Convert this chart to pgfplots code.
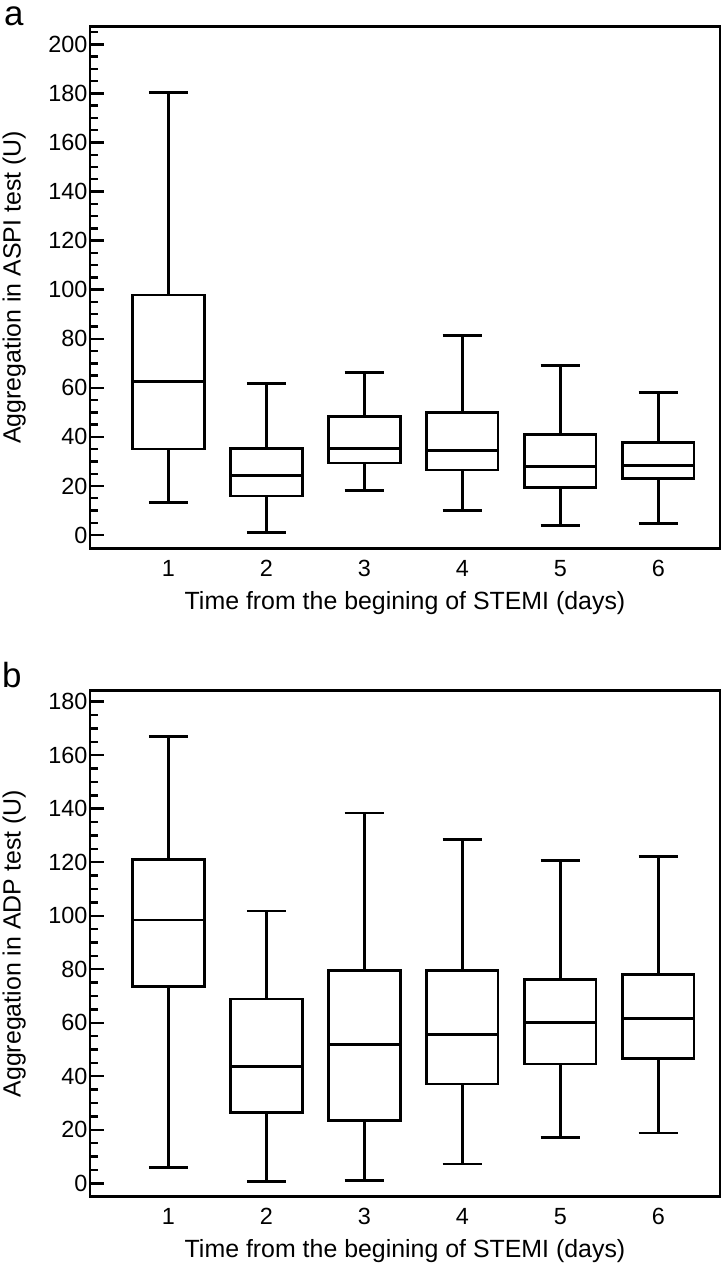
\documentclass[border=0pt]{standalone}
\usepackage{fontspec}
\setmainfont{Liberation Sans}
\usepackage{pgfplots}
\pgfplotsset{compat=1.18}
\usepgfplotslibrary{statistics}

% common look of both panels (1 bp = 1 px of the reference)
\pgfplotsset{
  stemi/.style={
    scale only axis, width=630bp,
    xmin=0.2, xmax=6.63,
    xtick={1,...,6},
    axis line style={line width=2.8bp},
    ytick pos=left, xtick pos=bottom,
    tick align=inside,
    major tick length=14bp, minor tick length=8bp,
    x tick style={draw=none},
    y tick style={line width=2.4bp, black},
    tick label style={font=\fontsize{23.5}{28}\selectfont},
    /pgf/number format/assume math mode=true,
    yticklabel style={xshift=1bp},
    xticklabel style={anchor=base, yshift=-28bp},
    label style={font=\fontsize{25}{30}\selectfont},
    xlabel={Time from the begining of STEMI (days)},
    xlabel style={at={(axis description cs:0.5,0)}, anchor=base, yshift=-61bp},
    ylabel style={at={(axis description cs:-0.110,0.5)}, anchor=base},
    boxplot/draw direction=y,
    boxplot/box extend=0.73,
    boxplot/whisker extend=0.4,
    every axis plot/.append style={black, line width=2.8bp, solid},
  }
}

\begin{document}
\begin{tikzpicture}
\useasboundingbox (0,0) rectangle (723bp,1269bp);

% panel a
\begin{axis}[stemi,
    at={(90bp,720.7bp)}, anchor=south west,
    height=521.6bp,
    ymin=-5.4, ymax=207.2,
    ytick={0,20,...,200},
    minor ytick={0,5,...,205},
    ylabel={Aggregation in ASPI test (U)},
]
\addplot[boxplot prepared={draw position=1, lower whisker=13.3, lower quartile=35.1, median=62.6, upper quartile=97.8, upper whisker=180.3}] coordinates {};
\addplot[boxplot prepared={draw position=2, lower whisker=1.1, lower quartile=15.9, median=24.2, upper quartile=35.2, upper whisker=61.9}] coordinates {};
\addplot[boxplot prepared={draw position=3, lower whisker=18.0, lower quartile=29.4, median=35.4, upper quartile=48.4, upper whisker=66.4}] coordinates {};
\addplot[boxplot prepared={draw position=4, lower whisker=10.1, lower quartile=26.5, median=34.4, upper quartile=50.1, upper whisker=81.4}] coordinates {};
\addplot[boxplot prepared={draw position=5, lower whisker=3.9, lower quartile=19.5, median=27.8, upper quartile=41.0, upper whisker=69.1}] coordinates {};
\addplot[boxplot prepared={draw position=6, lower whisker=4.6, lower quartile=23.1, median=28.3, upper quartile=37.7, upper whisker=58.2}] coordinates {};
\end{axis}

% panel b
\begin{axis}[stemi,
    at={(90bp,72.3bp)}, anchor=south west,
    height=506bp,
    ymin=-5.0, ymax=184.1,
    ytick={0,20,...,180},
    minor ytick={0,5,...,180},
    ylabel={Aggregation in ADP test (U)},
]
\addplot[boxplot prepared={draw position=1, lower whisker=6.0, lower quartile=73.7, median=98.4, upper quartile=121.1, upper whisker=167.0}] coordinates {};
\addplot[boxplot prepared={draw position=2, lower whisker=0.6, lower quartile=26.5, median=43.8, upper quartile=68.9, upper whisker=101.8}] coordinates {};
\addplot[boxplot prepared={draw position=3, lower whisker=1.2, lower quartile=23.5, median=51.8, upper quartile=79.5, upper whisker=138.4}] coordinates {};
\addplot[boxplot prepared={draw position=4, lower whisker=7.2, lower quartile=37.1, median=55.5, upper quartile=79.5, upper whisker=128.6}] coordinates {};
\addplot[boxplot prepared={draw position=5, lower whisker=17.1, lower quartile=44.6, median=60.1, upper quartile=76.3, upper whisker=120.6}] coordinates {};
\addplot[boxplot prepared={draw position=6, lower whisker=18.8, lower quartile=46.6, median=61.6, upper quartile=78.1, upper whisker=122.1}] coordinates {};
\end{axis}

% panel letters
\node[anchor=base west, inner sep=0pt, font=\fontsize{35}{40}\selectfont] at (4bp,1243bp) {a};
\node[anchor=base west, inner sep=0pt, font=\fontsize{35}{40}\selectfont] at (2bp,581bp) {b};
\end{tikzpicture}
\end{document}
